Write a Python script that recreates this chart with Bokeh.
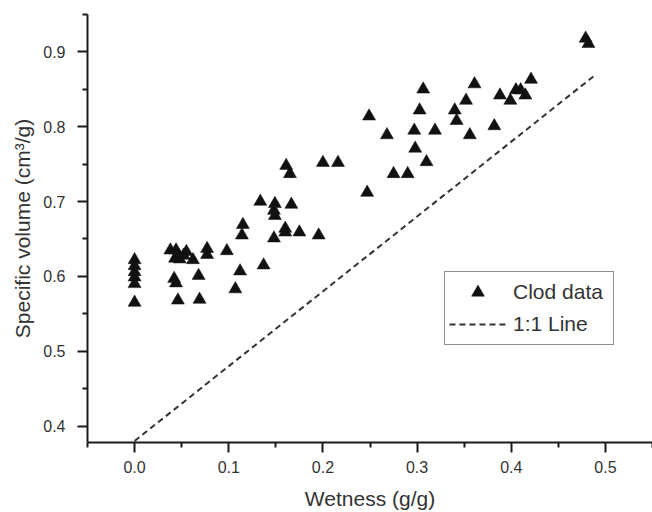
from bokeh.plotting import figure
from bokeh.models import Range1d, FixedTicker, Legend, LegendItem, NumeralTickFormatter
from bokeh.embed import file_html
from bokeh.resources import INLINE

# Clod data (wetness g/g, specific volume cm3/g)
wetness = [
    0.0, 0.0, 0.0, 0.0, 0.0, 0.0,
    0.038, 0.044, 0.055, 0.043, 0.048, 0.062, 0.077, 0.077, 0.042, 0.044,
    0.068, 0.046, 0.069, 0.052, 0.046,
    0.098, 0.107, 0.112, 0.114, 0.115, 0.1335, 0.137, 0.148, 0.149, 0.148,
    0.149, 0.160, 0.160, 0.161, 0.165, 0.1665, 0.175, 0.1955,
    0.200, 0.216, 0.247, 0.249, 0.268, 0.275, 0.290, 0.297, 0.298, 0.3027,
    0.3065, 0.310, 0.319, 0.340, 0.342, 0.352, 0.356, 0.361, 0.382, 0.388,
    0.399, 0.405, 0.410, 0.415, 0.421, 0.479, 0.482,
]
volume = [
    0.622, 0.614, 0.606, 0.599, 0.590, 0.565,
    0.635, 0.635, 0.633, 0.624, 0.623, 0.622, 0.637, 0.629, 0.597, 0.591,
    0.601, 0.568, 0.569, 0.628, 0.630,
    0.634, 0.583, 0.607, 0.655, 0.669, 0.700, 0.615, 0.651, 0.697, 0.688,
    0.681, 0.664, 0.659, 0.748, 0.737, 0.696, 0.659, 0.655,
    0.752, 0.752, 0.712, 0.814, 0.789, 0.737, 0.737, 0.795, 0.771, 0.822,
    0.850, 0.753, 0.795, 0.822, 0.808, 0.835, 0.789, 0.857, 0.801, 0.842,
    0.835, 0.849, 0.849, 0.842, 0.863, 0.918, 0.911,
]

# 1:1 line
line_x = [0.0, 0.49]
line_y = [0.38, 0.87]

x_ticks = [0.0, 0.1, 0.2, 0.3, 0.4, 0.5]
x_minor = [-0.05, 0.05, 0.15, 0.25, 0.35, 0.45, 0.55]
y_ticks = [0.4, 0.5, 0.6, 0.7, 0.8, 0.9]
y_minor = [0.45, 0.55, 0.65, 0.75, 0.85, 0.95]

FONT = "Liberation Sans"
TXT = "#333333"
AX = "#1a1a1a"

p = figure(width=652, height=512, output_backend="svg", toolbar_location=None,
           x_range=Range1d(-0.05, 0.55), y_range=Range1d(0.378, 0.95),
           min_border_left=87, min_border_right=0, min_border_top=14,
           min_border_bottom=67)
p.grid.visible = False
p.outline_line_color = None
p.background_fill_color = "white"
p.border_fill_color = "white"

ln = p.line(line_x, line_y, line_color="#333333", line_width=2, line_dash="6 4")
sc = p.scatter(wetness, volume, marker="triangle", size=13,
               fill_color="#111111", line_color="#111111", line_width=0.5)

for ax, ticks, minor in ((p.xaxis[0], x_ticks, x_minor), (p.yaxis[0], y_ticks, y_minor)):
    ax.ticker = FixedTicker(ticks=ticks, minor_ticks=minor)
    ax.formatter = NumeralTickFormatter(format="0.0")
    ax.axis_line_color = AX
    ax.axis_line_width = 2
    ax.major_tick_line_color = AX
    ax.major_tick_line_width = 2
    ax.minor_tick_line_color = AX
    ax.minor_tick_line_width = 2
    ax.major_tick_in = 0
    ax.minor_tick_in = 0
    ax.major_tick_out = 10
    ax.minor_tick_out = 5
    ax.major_label_text_font = FONT
    ax.major_label_text_font_size = "16px"
    ax.major_label_text_color = TXT
    ax.axis_label_text_font = FONT
    ax.axis_label_text_font_size = "21px"
    ax.axis_label_text_font_style = "normal"
    ax.axis_label_text_color = TXT

p.xaxis.axis_label = "Wetness (g/g)"
p.yaxis.axis_label = "Specific volume (cm³/g)"
p.xaxis.major_label_standoff = 8
p.yaxis.major_label_standoff = 12
p.xaxis.axis_label_standoff = 11
p.yaxis.axis_label_standoff = 6

legend = Legend(items=[LegendItem(label="Clod data", renderers=[sc]),
                       LegendItem(label="1:1 Line", renderers=[ln])],
                location=(357, 97))
legend.label_text_font = FONT
legend.label_text_font_size = "21px"
legend.label_text_color = TXT
legend.label_width = 96
legend.glyph_width = 57
legend.glyph_height = 32
legend.spacing = 0
legend.padding = 4
legend.margin = 0
legend.label_standoff = 7
legend.border_line_color = "#222222"
legend.border_line_width = 1.5
legend.background_fill_color = "white"
legend.background_fill_alpha = 1.0
p.add_layout(legend)

open("out.html", "w").write(file_html(p, INLINE))
